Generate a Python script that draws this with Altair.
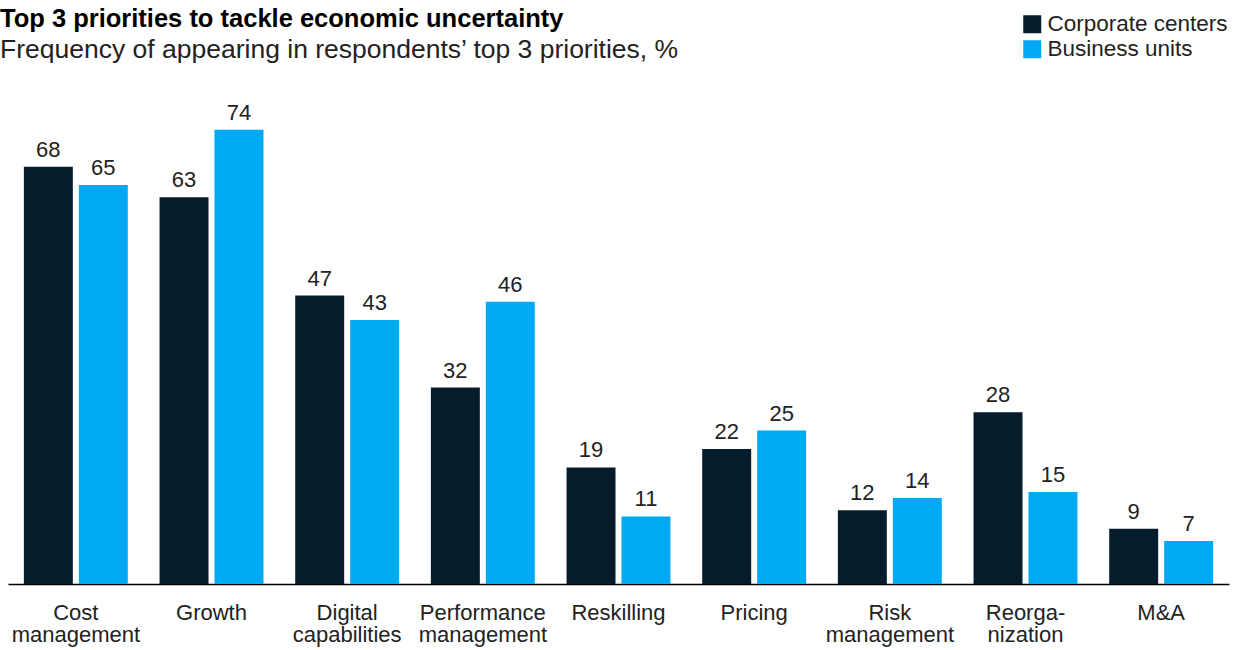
import altair as alt
import pandas as pd

categories = ["Cost|management", "Growth", "Digital|capabilities", "Performance|management",
              "Reskilling", "Pricing", "Risk|management", "Reorga-|nization", "M&A"]
series = ["Corporate centers", "Business units"]
corporate = [68, 63, 47, 32, 19, 22, 12, 28, 9]
business = [65, 74, 43, 46, 11, 25, 14, 15, 7]

dark = "#051C2C"
cyan = "#00A9F4"
FONT = "Liberation Sans"

rows = []
for c, a, b in zip(categories, corporate, business):
    rows.append({"category": c, "series": series[0], "value": a})
    rows.append({"category": c, "series": series[1], "value": b})
df = pd.DataFrame(rows)

base = alt.Chart(df).encode(
    x=alt.X("category:N", sort=categories,
            scale=alt.Scale(paddingInner=0.234, paddingOuter=0.117),
            axis=alt.Axis(title=None, labelExpr="split(datum.label, '|')", labelAngle=0,
                          ticks=False, domainColor="#000000", domainWidth=1.5,
                          labelFontSize=22, labelColor="#222222", labelPadding=18,
                          labelLineHeight=22, labelFont=FONT, labelBaseline="top")),
    xOffset=alt.XOffset("series:N", sort=series, scale=alt.Scale(paddingInner=0.109)),
    y=alt.Y("value:Q", scale=alt.Scale(domain=[0, 80]), axis=None),
)

bars = base.mark_bar().encode(
    color=alt.Color("series:N", sort=series,
                    scale=alt.Scale(domain=series, range=[dark, cyan]),
                    legend=alt.Legend(orient="none", legendX=1013, legendY=-80, title=None,
                                      symbolType="square", symbolSize=324, symbolStrokeWidth=0,
                                      symbolOpacity=1, labelFontSize=22.5, labelFont=FONT,
                                      labelColor="#222222", rowPadding=2, labelLimit=300,
                                      labelOffset=4))
)

labels = base.mark_text(baseline="bottom", dy=-5, fontSize=22, font=FONT, color="#222222").encode(
    text="value:Q"
)

chart = alt.layer(bars, labels).properties(
    width=1221, height=491,
    autosize=alt.AutoSizeParams(type="none"),
    padding={"left": 8, "top": 93, "right": 18, "bottom": 66},
    title=alt.Title(text="Top 3 priorities to tackle economic uncertainty",
                    subtitle="Frequency of appearing in respondents’ top 3 priorities, %",
                    anchor="start", frame="group", dx=-8, offset=-50,
                    font=FONT, fontSize=25.5, fontWeight="bold", color="#000000",
                    subtitleFont=FONT, subtitleFontSize=26.5, subtitleColor="#222222",
                    subtitlePadding=4),
).configure_view(stroke=None)

chart.save("out.html", embed_options={"renderer": "svg", "actions": False})
